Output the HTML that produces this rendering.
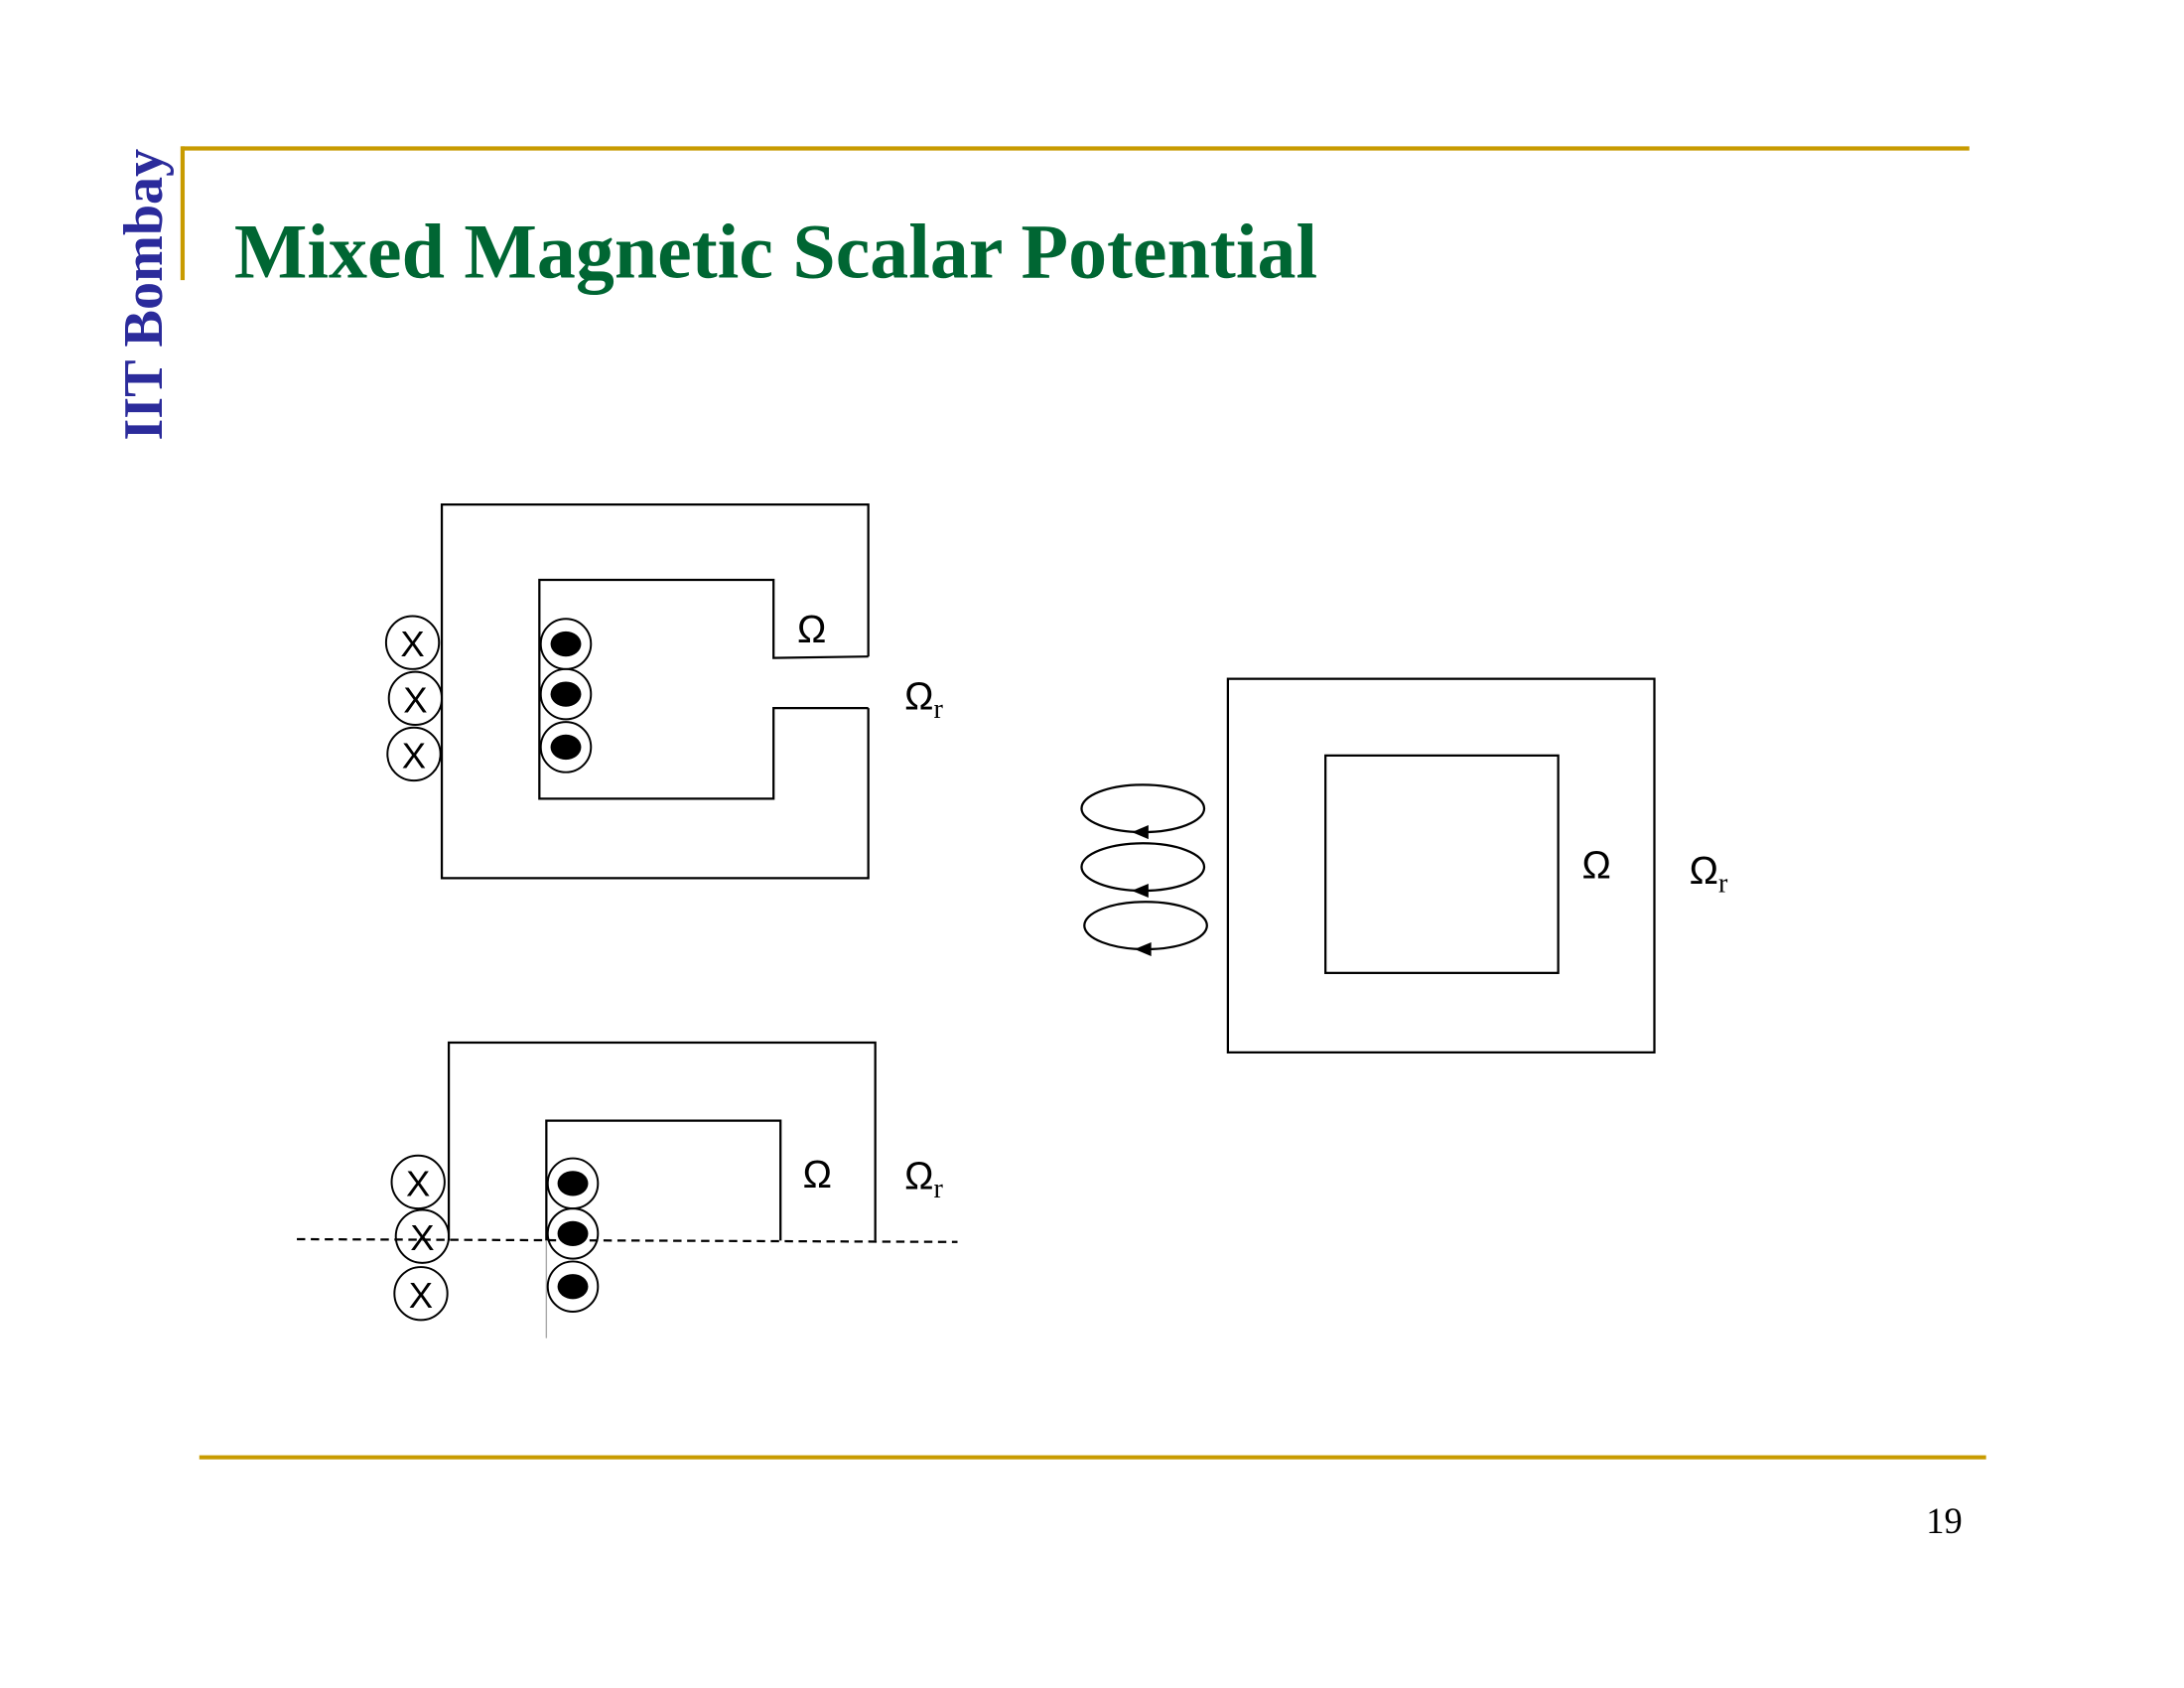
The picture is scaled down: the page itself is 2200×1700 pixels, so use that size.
<!DOCTYPE html>
<html><head><meta charset="utf-8">
<style>
html,body{margin:0;padding:0;background:#fff;}
svg{display:block;}
</style></head>
<body>
<svg width="2200" height="1700" viewBox="0 0 1567 1211" preserveAspectRatio="none" xmlns="http://www.w3.org/2000/svg">
<line x1="130" y1="106.5" x2="1413" y2="106.5" stroke="#c89b00" stroke-width="3"/>
<line x1="131" y1="105" x2="131" y2="201" stroke="#c89b00" stroke-width="3"/>
<line x1="143" y1="1045.5" x2="1425" y2="1045.5" stroke="#c89b00" stroke-width="3"/>
<text transform="translate(116,316) rotate(-90)" font-family="Liberation Serif, serif" font-weight="bold" font-size="40" fill="#2b2b9b">IIT Bombay</text>
<text x="168" y="199" font-family="Liberation Serif, serif" font-weight="bold" font-size="55.5" fill="#006633">Mixed Magnetic Scalar Potential</text>
<text x="1382" y="1100" font-family="Liberation Serif, serif" font-size="26" fill="#000">19</text>

<g fill="none" stroke="#000" stroke-width="1.6">
<path d="M623,471 L623,362 L317,362 L317,630 L623,630 L623,508"/>
<path d="M623,471 L555,472 L555,416 L387,416 L387,573 L555,573 L555,508 L623,508"/>
<rect x="881" y="487" width="306" height="268"/>
<rect x="951" y="542" width="167" height="156"/>
<ellipse cx="820" cy="580" rx="44" ry="17"/>
<ellipse cx="820" cy="622" rx="44" ry="17"/>
<ellipse cx="822" cy="664" rx="44" ry="17"/>
<path d="M322,890 L322,748 L628,748 L628,890"/>
<path d="M392,890 L392,804 L560,804 L560,890"/>
<line x1="213" y1="889" x2="687" y2="891" stroke-dasharray="6,4"/>
</g>
<line x1="392" y1="890" x2="392" y2="960" stroke="#aaa" stroke-width="1"/>
<g stroke="none" fill="#000">
<path d="M812,597 L824,592 L824,602 Z"/>
<path d="M812,639 L824,634 L824,644 Z"/>
<path d="M814,681 L826,676 L826,686 Z"/>
</g>
<g font-family="Liberation Sans, sans-serif" font-size="26" text-anchor="middle" fill="#000">
<g fill="none" stroke="#000" stroke-width="1.4">
<circle cx="296" cy="461" r="19"/><circle cx="298" cy="501" r="19"/><circle cx="297" cy="541" r="19"/>
<circle cx="300" cy="848" r="19"/><circle cx="303" cy="887" r="19"/><circle cx="302" cy="928" r="19"/>
<circle cx="406" cy="462" r="18"/><circle cx="406" cy="498" r="18"/><circle cx="406" cy="536" r="18"/>
<circle cx="411" cy="849" r="18"/><circle cx="411" cy="885" r="18"/><circle cx="411" cy="923" r="18"/>
</g>
<text x="296" y="471">X</text><text x="298" y="511">X</text><text x="297" y="551">X</text>
<text x="300" y="858">X</text><text x="303" y="897">X</text><text x="302" y="938">X</text>
<ellipse cx="406" cy="462" rx="11" ry="9"/><ellipse cx="406" cy="498" rx="11" ry="9"/><ellipse cx="406" cy="536" rx="11" ry="9"/>
<ellipse cx="411" cy="849" rx="11" ry="9"/><ellipse cx="411" cy="885" rx="11" ry="9"/><ellipse cx="411" cy="923" rx="11" ry="9"/>
</g>
<g font-family="Liberation Sans, DejaVu Sans, sans-serif" font-size="28" fill="#000">
<text x="572" y="461">Ω</text>
<text x="649" y="509">Ω<tspan font-family="Liberation Serif, serif" font-size="20" dy="6">r</tspan></text>
<text x="1135" y="630">Ω</text>
<text x="1212" y="634">Ω<tspan font-family="Liberation Serif, serif" font-size="20" dy="6">r</tspan></text>
<text x="576" y="852">Ω</text>
<text x="649" y="853">Ω<tspan font-family="Liberation Serif, serif" font-size="20" dy="6">r</tspan></text>
</g>
</svg>
</body></html>
